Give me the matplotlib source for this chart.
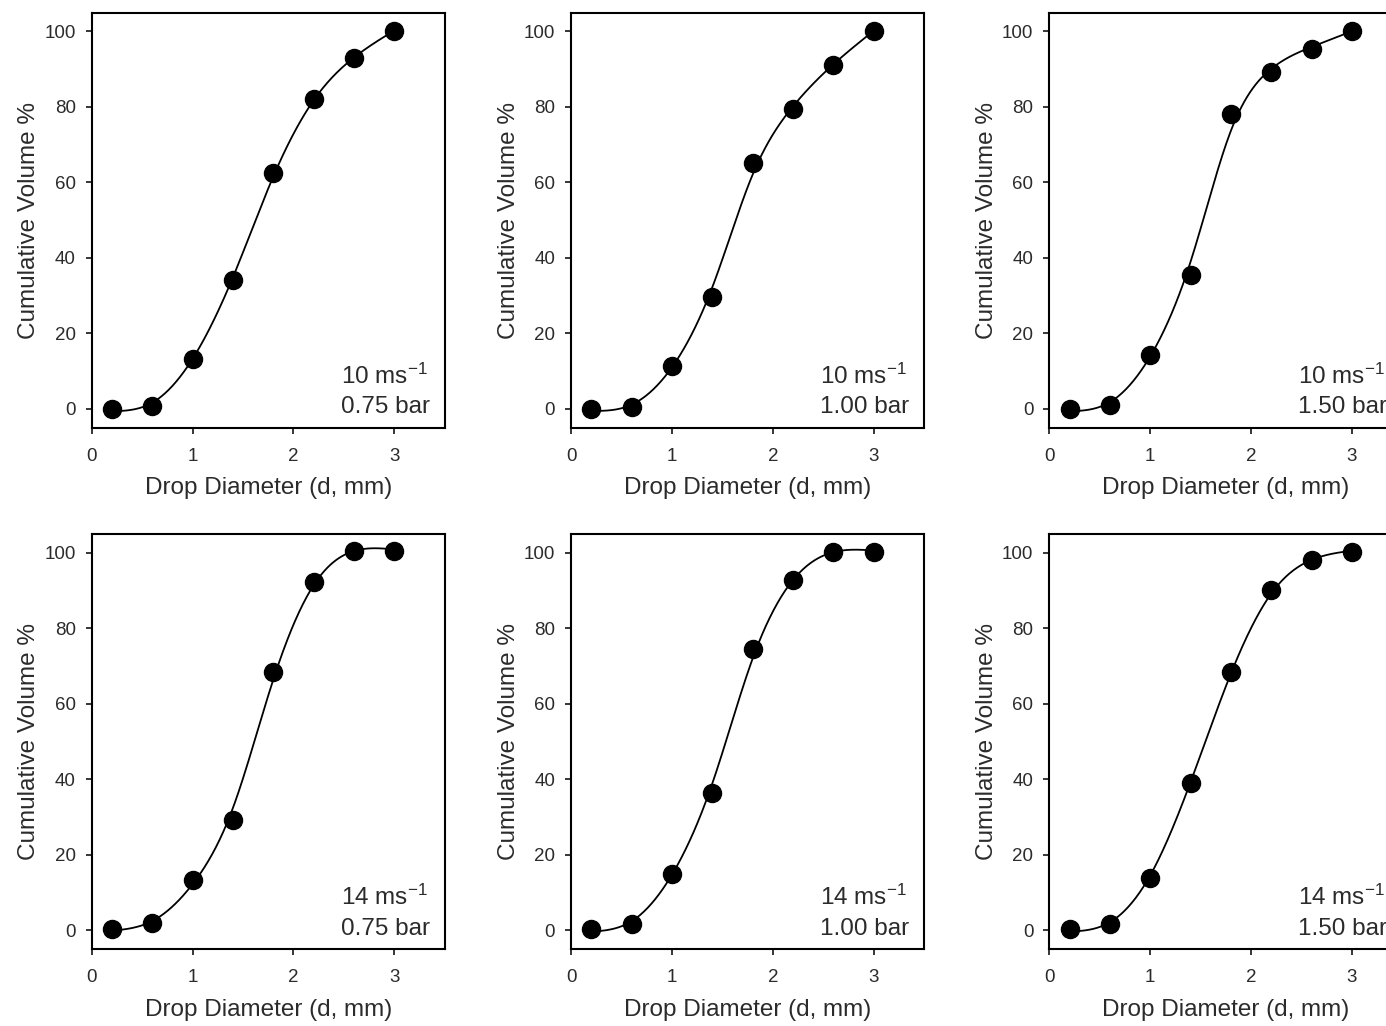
import numpy as np
import matplotlib
matplotlib.use("Agg")
import matplotlib.pyplot as plt

plt.rcParams['font.family'] = ['Liberation Sans', 'DejaVu Sans']
plt.rcParams['mathtext.fontset'] = 'custom'
plt.rcParams['mathtext.rm'] = 'Liberation Sans'
plt.rcParams['mathtext.it'] = 'Liberation Sans:italic'
plt.rcParams['mathtext.bf'] = 'Liberation Sans:bold'

# drop size classes (mm) and cumulative volume %
diameter = [0.2, 0.6, 1.0, 1.4, 1.8, 2.2, 2.6, 3.0]
vol_10_075 = [0.0, 0.8, 13.1, 34.0, 62.5, 82.2, 92.9, 100.0]
vol_10_100 = [0.0, 0.5, 11.2, 29.6, 65.2, 79.3, 91.2, 100.0]
vol_10_150 = [0.0, 1.0, 14.3, 35.4, 78.1, 89.2, 95.4, 100.0]
vol_14_075 = [0.4, 1.8, 13.2, 29.2, 68.5, 92.3, 100.4, 100.4]
vol_14_100 = [0.3, 1.6, 15.0, 36.4, 74.4, 92.9, 100.2, 100.2]
vol_14_150 = [0.3, 1.6, 13.7, 39.0, 68.5, 90.1, 98.0, 100.2]

speeds = ['10', '10', '10', '14', '14', '14']
pressures = ['0.75', '1.00', '1.50', '0.75', '1.00', '1.50']
series = [vol_10_075, vol_10_100, vol_10_150, vol_14_075, vol_14_100, vol_14_150]

TXT = '#2b2b2b'


def smoothing_spline(x, y, lam):
    # cubic smoothing spline (Reinsch) through the measured points
    x = np.asarray(x, float)
    y = np.asarray(y, float)
    n = len(x)
    h = np.diff(x)
    Q = np.zeros((n, n - 2))
    R = np.zeros((n - 2, n - 2))
    for j in range(1, n - 1):
        Q[j - 1, j - 1] = 1 / h[j - 1]
        Q[j, j - 1] = -1 / h[j - 1] - 1 / h[j]
        Q[j + 1, j - 1] = 1 / h[j]
        R[j - 1, j - 1] = (h[j - 1] + h[j]) / 3
        if j < n - 2:
            R[j - 1, j] = R[j, j - 1] = h[j] / 6
    gam = np.linalg.solve(R + lam * Q.T @ Q, Q.T @ y)
    g = y - lam * Q @ gam
    gam = np.concatenate([[0], gam, [0]])

    def f(t):
        i = np.clip(np.searchsorted(x, t) - 1, 0, n - 2)
        a, b, hi = t - x[i], x[i + 1] - t, h[i]
        return ((a * g[i + 1] + b * g[i]) / hi
                - a * b / 6 * ((1 + a / hi) * gam[i + 1] + (1 + b / hi) * gam[i]))
    return f


fig = plt.figure(figsize=(13.86, 10.26), dpi=100)

lefts = [0.0662, 0.4120, 0.7571]
bottoms = [0.5833, 0.0750]
w, h = 0.2547, 0.4045

for n, vals in enumerate(series):
    ax = fig.add_axes([lefts[n % 3], bottoms[n // 3], w, h])
    curve = smoothing_spline(diameter, vals, 0.004)
    xs = np.linspace(diameter[0], diameter[-1], 300)
    ax.plot(xs, curve(xs), color='black', lw=1.3, zorder=2)
    ax.plot(diameter, vals, 'o', color='black', ms=13, zorder=3)

    ax.set_xlim(0, 3.5)
    ax.set_ylim(-5, 105)
    ax.set_xticks([0, 1, 2, 3])
    ax.set_yticks([0, 20, 40, 60, 80, 100])
    for s in ax.spines.values():
        s.set_linewidth(1.5)
    ax.tick_params(direction='out', length=4.5, width=1.1, labelsize=13.5,
                   labelcolor=TXT)
    ax.tick_params(axis='x', pad=10)
    ax.tick_params(axis='y', pad=7)
    ax.set_xlabel('Drop Diameter (d, mm)', fontsize=17.5, color=TXT, labelpad=9)
    ax.set_ylabel('Cumulative Volume %', fontsize=17.5, color=TXT, labelpad=3)

    ax.text(0.705, 0.106, speeds[n] + r' ms$^{-1}$', transform=ax.transAxes,
            fontsize=17.5, color=TXT, va='baseline', ha='left')
    ax.text(0.705, 0.034, pressures[n] + ' bar', transform=ax.transAxes,
            fontsize=17.5, color=TXT, va='baseline', ha='left')

fig.savefig('out.png', dpi=100)
